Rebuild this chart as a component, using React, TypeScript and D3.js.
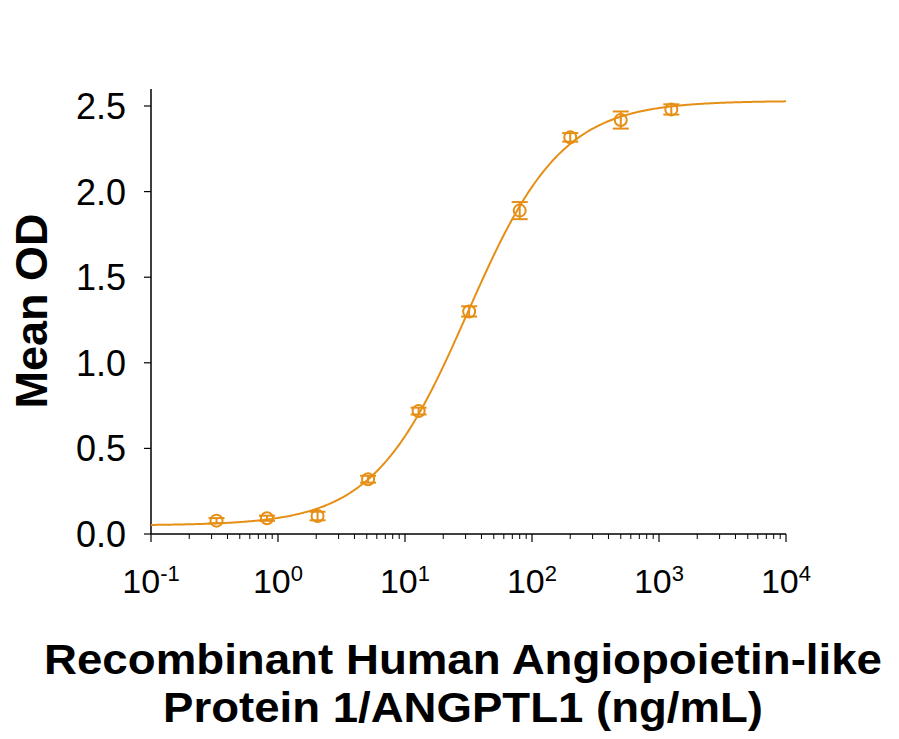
import React, { useEffect, useRef } from 'react';
import * as d3 from 'd3';

// concentrations (ng/mL), 2.5-fold dilution series
const concentrations = [0.328, 0.819, 2.048, 5.12, 12.8, 32, 80, 200, 500, 1250];
const meanOD = [0.078, 0.092, 0.105, 0.32, 0.718, 1.3, 1.889, 2.317, 2.418, 2.48];
const errOD = [0.015, 0.015, 0.025, 0.02, 0.02, 0.03, 0.05, 0.025, 0.05, 0.03];

// four-parameter logistic fit
const fitBottom = 0.05;
const fitTop = 2.53;
const fitEC50 = 31;
const fitHill = 1.17;

const yTicks = [0, 0.5, 1.0, 1.5, 2.0, 2.5];
const xTickExps = [-1, 0, 1, 2, 3, 4];

const COLOR = '#E68F16';

function App() {
  const svgRef = useRef(null);
  const width = 899;
  const height = 739;

  useEffect(() => {
    if (!svgRef.current) return;
    const svg = d3.select(svgRef.current);
    svg.selectAll('*').remove();

    const x = d3.scaleLog().domain([0.1, 10000]).range([151, 786]);
    const y = d3.scaleLinear().domain([0, 2.5]).range([534, 106]);

    // y axis
    svg.append('line')
      .attr('x1', 151).attr('x2', 151)
      .attr('y1', y(2.6)).attr('y2', y(0))
      .attr('stroke', '#000').attr('stroke-width', 1.5);
    yTicks.forEach((t) => {
      svg.append('line')
        .attr('x1', 144).attr('x2', 151)
        .attr('y1', y(t)).attr('y2', y(t))
        .attr('stroke', '#000').attr('stroke-width', 1.2);
      svg.append('text')
        .attr('x', 126).attr('y', y(t))
        .attr('dy', '0.36em')
        .attr('text-anchor', 'end')
        .attr('font-family', 'Liberation Sans, Arial, sans-serif')
        .attr('font-size', 36)
        .text(t.toFixed(1));
    });

    // x axis
    svg.append('line')
      .attr('x1', 151).attr('x2', 786)
      .attr('y1', 534).attr('y2', 534)
      .attr('stroke', '#000').attr('stroke-width', 1.5);
    xTickExps.forEach((e, i) => {
      const v = Math.pow(10, e);
      svg.append('line')
        .attr('x1', x(v)).attr('x2', x(v))
        .attr('y1', 534).attr('y2', 542)
        .attr('stroke', '#000').attr('stroke-width', 1.2);
      if (i < xTickExps.length - 1) {
        for (let m = 2; m <= 9; m++) {
          svg.append('line')
            .attr('x1', x(v * m)).attr('x2', x(v * m))
            .attr('y1', 534).attr('y2', 539)
            .attr('stroke', '#000').attr('stroke-width', 1);
        }
      }
      const t = svg.append('text')
        .attr('x', x(v)).attr('y', 593)
        .attr('text-anchor', 'middle')
        .attr('font-family', 'Liberation Sans, Arial, sans-serif')
        .attr('font-size', 34);
      t.append('tspan').text('10');
      t.append('tspan')
        .attr('font-size', 22)
        .attr('dy', -12)
        .text(String(e));
    });

    // fitted curve
    const curveX = d3.range(0, 501).map((i) => Math.pow(10, -1 + (5 * i) / 500));
    const fit = (c) => fitBottom + (fitTop - fitBottom) / (1 + Math.pow(fitEC50 / c, fitHill));
    svg.append('path')
      .attr('d', d3.line().x((c) => x(c)).y((c) => y(fit(c)))(curveX))
      .attr('fill', 'none')
      .attr('stroke', COLOR)
      .attr('stroke-width', 2);

    // error bars and points
    const g = svg.append('g').attr('stroke', COLOR).attr('fill', 'none').attr('stroke-width', 2);
    concentrations.forEach((c, i) => {
      const cx = x(c);
      const lo = y(meanOD[i] - errOD[i]);
      const hi = y(meanOD[i] + errOD[i]);
      g.append('line').attr('x1', cx).attr('x2', cx).attr('y1', lo).attr('y2', hi);
      g.append('line').attr('x1', cx - 8).attr('x2', cx + 8).attr('y1', lo).attr('y2', lo);
      g.append('line').attr('x1', cx - 8).attr('x2', cx + 8).attr('y1', hi).attr('y2', hi);
      g.append('circle').attr('cx', cx).attr('cy', y(meanOD[i])).attr('r', 6);
    });

    // axis titles
    svg.append('text')
      .attr('transform', 'translate(47,311) rotate(-90)')
      .attr('text-anchor', 'middle')
      .attr('font-family', 'Liberation Sans, Arial, sans-serif')
      .attr('font-weight', 'bold')
      .attr('font-size', 45)
      .text('Mean OD');

    const titleLines = ['Recombinant Human Angiopoietin-like', 'Protein 1/ANGPTL1 (ng/mL)'];
    const titleWidths = [838, 600];
    titleLines.forEach((line, i) => {
      svg.append('text')
        .attr('x', 463).attr('y', 674 + i * 48)
        .attr('text-anchor', 'middle')
        .attr('font-family', 'Liberation Sans Narrow, Liberation Sans, Arial, sans-serif')
        .attr('font-weight', 'bold')
        .attr('font-size', 42)
        .attr('textLength', titleWidths[i])
        .attr('lengthAdjust', 'spacingAndGlyphs')
        .text(line);
    });
  }, []);

  return (
    <svg
      ref={svgRef}
      width={width}
      height={height}
      style={{ position: 'absolute', left: 0, top: 0, background: '#fff' }}
    />
  );
}

export default App;
